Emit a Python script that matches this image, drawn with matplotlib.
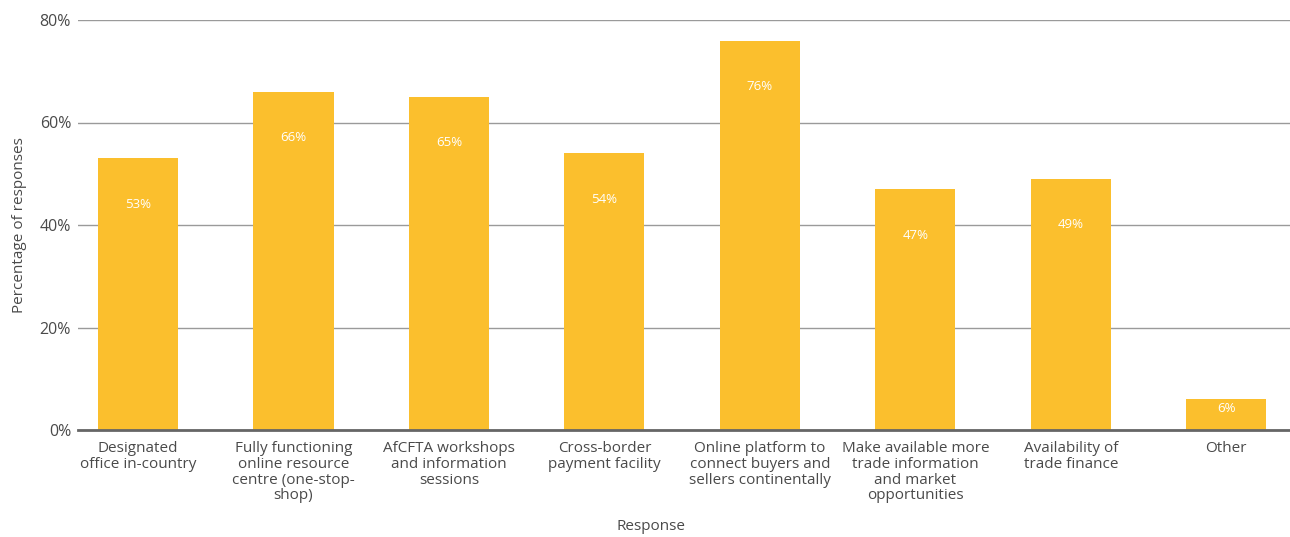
import matplotlib
matplotlib.use("Agg")
import matplotlib.pyplot as plt
import numpy as np

plt.rcParams['font.family'] = ['Open Sans', 'DejaVu Sans']

categories = [
    "Designated\noffice in-country",
    "Fully functioning\nonline resource\ncentre (one-stop-\nshop)",
    "AfCFTA workshops\nand information\nsessions",
    "Cross-border\npayment facility",
    "Online platform to\nconnect buyers and\nsellers continentally",
    "Make available more\ntrade information\nand market\nopportunities",
    "Availability of\ntrade finance",
    "Other",
]
values = [53, 66, 65, 54, 76, 47, 49, 6]
yticks = [0, 20, 40, 60, 80]

bar_color = "#FBBF2D"
text_color = "#4a4a4a"

fig = plt.figure(figsize=(12.9, 5.37), dpi=100)
ax = fig.add_axes([78 / 1290, 107 / 537, 1212 / 1290, 410 / 537])

x = np.arange(len(categories))
ax.bar(x, values, width=0.515, color=bar_color, zorder=3)

for xi, v in zip(x, values):
    ly = v - 9 if v > 18 else v * 0.7
    ax.text(xi, ly, f"{v}%", ha="center", va="center", color="white",
            fontsize=9.5, zorder=4)

ax.set_xlim(-0.386, 7.41)
ax.set_ylim(0, 80)
ax.set_yticks(yticks)
ax.set_yticklabels([f"{t}%" for t in yticks], fontsize=11.5, color=text_color)
ax.set_xticks(x)
ax.set_xticklabels(categories, fontsize=11, color=text_color, linespacing=1.07)
ax.tick_params(axis="y", length=0, pad=5)
ax.tick_params(axis="x", length=0, pad=8)

ax.grid(axis="y", color="#9a9a9a", linewidth=1, zorder=0)
ax.set_axisbelow(True)
for s in ["top", "right", "left"]:
    ax.spines[s].set_visible(False)
ax.spines["bottom"].set_color("#666666")
ax.spines["bottom"].set_linewidth(2)
ax.spines["bottom"].set_zorder(5)

ax.set_ylabel("Percentage of responses", fontsize=11, color=text_color, labelpad=9)
fig.text(651 / 1290, 1 - 527 / 537, "Response", ha="center", va="center",
         fontsize=11, color=text_color)

fig.savefig("out.png", dpi=100, facecolor="white")
